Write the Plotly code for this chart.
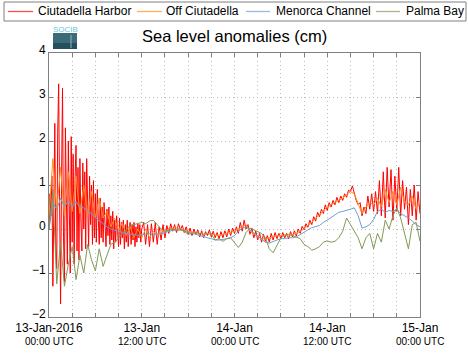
import numpy as np
import pandas as pd
import plotly.graph_objects as go

# ---------------- data (hours since 13-Jan-2016 00:00 UTC) ----------------
# Ciutadella Harbor: first 12 h sampled every 0.125 h, then every 0.25 h
harbor_early = [
    0.0, 0.8, 0.3, 1.2, -1.3, 1.5, 2.4, -0.4,
    -0.9, 2.2, 3.3, 0.5, -1.7, 1.2, 3.2, -0.2,
    -1.2, 2.3, 0.4, -0.8, 2.0, 0.9, -1.0, 2.1,
    -0.3, 1.7, -0.8, 1.2, 1.9, -0.5, 1.4, -0.7,
    1.6, 0.2, -0.5, 1.5, 0.0, 1.3, -0.45, 1.6,
    0.3, -0.4, 1.2, 0.1, 1.0, -0.35, 1.1, -0.2,
    0.8, -0.3, 0.9, 0.1, -0.35, 0.7, -0.2, 0.5,
    -0.3, 0.6, 0.0, -0.4, 0.45, -0.15, 0.5, -0.35,
    0.3, -0.25, 0.4, -0.45, 0.2, -0.3, 0.3, -0.1,
    -0.4, 0.25, -0.35, 0.15, -0.2, 0.2, -0.45, 0.1,
    -0.3, 0.2, -0.4, 0.0, 0.15, -0.35, 0.1, -0.25,
    0.15, -0.4, 0.05, -0.3, 0.12, -0.2, 0.1, -0.3,
    0.0,
]
harbor_late = [
    0.15, -0.35, 0.1, -0.4, 0.12, -0.3, 0.15, -0.35,
    0.05, -0.25, 0.1, -0.2, 0.08, -0.1, 0.12, -0.05,
    0.1, -0.08, 0.12, -0.02, 0.08, -0.08, 0.05, -0.12,
    0.02, -0.15, 0.0, -0.12, -0.02, -0.18, -0.04, -0.2,
    -0.06, -0.15, -0.02, -0.18, -0.05, -0.2, -0.08, -0.22,
    -0.06, -0.2, -0.04, -0.18, 0.0, -0.15, 0.02, -0.1,
    0.05, -0.1, 0.15, -0.05, 0.2, 0.0, 0.1, -0.12,
    0.02, -0.2, -0.05, -0.25, -0.1, -0.3, -0.12, -0.28,
    -0.15, -0.3, -0.1, -0.25, -0.08, -0.22, -0.1, -0.22,
    -0.08, -0.2, -0.1, -0.22, -0.06, -0.18, -0.04, -0.16,
    0.0, -0.1, 0.06, -0.02, 0.12, 0.04, 0.2, 0.1,
    0.28, 0.18, 0.38, 0.28, 0.45, 0.35, 0.55, 0.42,
    0.6, 0.5, 0.65, 0.55, 0.72, 0.6, 0.75, 0.65,
    0.8, 0.72, 0.88, 0.85, 0.98, 0.8, 0.65, 0.55,
    0.6, 0.3, 0.5, 0.35, 0.75, 0.45, 0.8, 0.4,
    0.85, 0.35, 1.1, 0.3, 1.3, 0.25, 1.4, 0.5,
    1.35, 0.2, 1.2, 0.4, 1.4, 0.3, 1.1, 0.45,
    0.95, 0.1, 0.9, 0.3, 1.0, 0.2, 0.85, 0.35,
]

# Other stations: every 0.5 h
off_ciutadella = [
    0.3, 1.6, 0.4, 1.4, 0.3, 1.3, 0.4, 1.2, 0.35, 1.0, 0.3, 0.85, 0.25,
    0.7, 0.25, 0.4, 0.05, 0.25, -0.05, 0.15, -0.15, 0.05, -0.2, 0.0, -0.2,
    0.0, -0.2, -0.05, -0.15, 0.0, -0.1, 0.02, 0.0, 0.03, 0.0, -0.02, -0.05,
    -0.08, -0.08, -0.1, -0.12, -0.1, -0.12, -0.14, -0.15, -0.12, -0.1, -0.08, -0.05,
    0.0, 0.05, 0.1, -0.05, -0.12, -0.18, -0.22, -0.22, -0.2, -0.18, -0.15, -0.15,
    -0.14, -0.15, -0.12, -0.1, -0.05, 0.0, 0.08, 0.15, 0.25, 0.32, 0.42, 0.5,
    0.55, 0.6, 0.65, 0.7, 0.78, 0.85, 0.8, 0.55, 0.35, 0.5, 0.6, 0.55,
    0.7, 0.5, 0.9, 0.6, 0.85, 0.55, 0.95, 0.6, 0.55, 0.75, 0.45, 0.6,
]

menorca_channel = [
    0.0, 0.6, 0.45, 0.7, 0.5, 0.65, 0.5, 0.62, 0.5, 0.48, 0.4, 0.35, 0.26,
    0.2, 0.12, 0.05, 0.0, -0.03, -0.05, -0.08, -0.1, -0.12, -0.12, -0.15, -0.12,
    -0.12, -0.1, -0.15, -0.1, -0.12, -0.08, -0.05, -0.03, -0.02, -0.02, -0.05, -0.08,
    -0.1, -0.12, -0.15, -0.18, -0.2, -0.22, -0.25, -0.25, -0.24, -0.22, -0.2, -0.15,
    -0.05, 0.02, 0.05, -0.02, -0.1, -0.18, -0.25, -0.3, -0.32, -0.28, -0.25, -0.22,
    -0.22, -0.2, -0.2, -0.18, -0.12, -0.08, -0.02, 0.03, 0.05, 0.08, 0.15, 0.2,
    0.26, 0.32, 0.38, 0.4, 0.42, 0.45, 0.48, 0.3, 0.02, 0.05, 0.1, 0.22,
    0.4, 0.45, 0.38, 0.42, 0.4, 0.45, 0.35, 0.3, 0.25, 0.18, 0.1, 0.05,
]

palma_bay = [
    0.0, 0.9, -1.25, -0.3, -1.3, -0.8, -0.4, -1.15, -0.6, -1.0, -0.35, -0.7, -0.95,
    -0.45, -0.85, -0.6, -0.35, -0.3, -0.2, -0.1, 0.0, 0.08, 0.1, 0.12, 0.15,
    0.12, 0.18, 0.2, 0.1, 0.0, -0.05, -0.02, 0.0, -0.03, -0.02, -0.05, -0.12,
    -0.1, -0.08, -0.1, -0.12, -0.1, -0.12, -0.25, -0.22, -0.28, -0.22, -0.2, -0.32,
    -0.42, -0.3, -0.08, 0.02, -0.02, -0.05, -0.1, -0.2, -0.45, -0.54, -0.35, -0.2,
    -0.14, -0.12, -0.15, -0.18, -0.22, -0.35, -0.4, -0.48, -0.45, -0.4, -0.3, -0.27,
    -0.3, -0.28, -0.2, -0.05, 0.25, 0.1, -0.05, -0.2, -0.45, -0.2, -0.1, -0.45,
    -0.1, -0.3, 0.2, 0.0, 0.3, 0.48, 0.25, -0.1, -0.45, 0.1, 0.15, -0.28,
]

series_names = ["Ciutadella Harbor", "Off Ciutadella", "Menorca Channel", "Palma Bay"]
series_colors = ["#ff0000", "#ff8c1a", "#6f9fd0", "#7f9a55"]

tick_hours = [0, 3, 6, 9, 12, 15, 18, 21, 24, 27, 30, 33, 36, 39, 42, 45, 48]
tick_main = {0: "13-Jan-2016", 12: "13-Jan", 24: "14-Jan", 36: "14-Jan", 48: "15-Jan"}
tick_sub = {0: "00:00 UTC", 12: "12:00 UTC", 24: "00:00 UTC", 36: "12:00 UTC", 48: "00:00 UTC"}

# ---------------- build ----------------
W, H = 468, 353
ML, MR, MT, MB = 49, 48, 53, 36
PW, PH = W - ML - MR, H - MT - MB


def px2x(px):
    return (px - ML) / PW


def px2y(py):
    return (H - MB - py) / PH


base = pd.Timestamp("2016-01-13 00:00:00")
assert len(harbor_early) == 97 and len(harbor_late) == 144
assert len(off_ciutadella) == len(menorca_channel) == len(palma_bay) == 97

red_hours = np.concatenate([np.arange(len(harbor_early)) * 0.125,
                            12.25 + np.arange(len(harbor_late)) * 0.25])
harbor = harbor_early + harbor_late
t_red = base + pd.to_timedelta(red_hours, unit="h")
t_oth = base + pd.to_timedelta(np.arange(len(off_ciutadella)) * 0.5, unit="h")

FONT = "Liberation Sans, Arial, Helvetica, sans-serif"

fig = go.Figure()
for name, col, xs, ys in zip(series_names, series_colors,
                             [t_red, t_oth, t_oth, t_oth],
                             [harbor, off_ciutadella, menorca_channel, palma_bay]):
    fig.add_trace(go.Scatter(x=xs, y=ys, mode="lines", name=name,
                             line=dict(color=col, width=1), showlegend=False))

tickvals = [base + pd.Timedelta(hours=h) for h in tick_hours]
ticktext = [tick_main.get(h, "") for h in tick_hours]

axis_common = dict(showline=True, linecolor="#808080", linewidth=1, mirror="ticks",
                   ticks="inside", ticklen=4, tickcolor="#808080", automargin=False,
                   showgrid=True, gridcolor="#bdbdbd", griddash="1px,3px", gridwidth=1,
                   zeroline=False, tickfont=dict(family=FONT, size=12, color="black"))

annotations = [
    dict(text="Sea level anomalies (cm)", xref="paper", yref="paper",
         x=0.5, y=px2y(36), xanchor="center", yanchor="middle", showarrow=False,
         font=dict(family=FONT, size=16.5, color="black")),
    dict(text="SOCIB", xref="paper", yref="paper", x=px2x(65), y=px2y(29),
         xanchor="center", yanchor="middle", showarrow=False,
         font=dict(family=FONT, size=8, color="#6cc3d6")),
]
for h, sub in tick_sub.items():
    annotations.append(dict(text=sub, xref="x", yref="paper",
                            x=base + pd.Timedelta(hours=h), y=px2y(341),
                            xanchor="center", yanchor="middle", showarrow=False,
                            font=dict(family=FONT, size=10, color="black")))

# manual legend (one row, boxed)
leg_line_px = [(8, 33), (137, 162), (246, 270), (376, 400)]
leg_text_px = [36, 164, 274, 404]
leg_y = 11.5
shapes = [
    dict(type="rect", xref="paper", yref="paper", x0=px2x(4), x1=px2x(466),
         y0=px2y(21), y1=px2y(2), fillcolor="white",
         line=dict(color="#808080", width=1), layer="above"),
]
for (a, b), tx, name, col in zip(leg_line_px, leg_text_px, series_names, series_colors):
    shapes.append(dict(type="line", xref="paper", yref="paper", x0=px2x(a), x1=px2x(b),
                       y0=px2y(leg_y), y1=px2y(leg_y), line=dict(color=col, width=1.3),
                       layer="above", opacity=0.7))
    annotations.append(dict(text=name, xref="paper", yref="paper", x=px2x(tx), y=px2y(leg_y),
                            xanchor="left", yanchor="middle", showarrow=False,
                            font=dict(family=FONT, size=12, color="black")))

# SOCIB logo block
shapes += [
    dict(type="rect", xref="paper", yref="paper", x0=px2x(53), x1=px2x(77),
         y0=px2y(49), y1=px2y(33), fillcolor="#3b6a78", line=dict(width=0), layer="above"),
    dict(type="rect", xref="paper", yref="paper", x0=px2x(53), x1=px2x(77),
         y0=px2y(49), y1=px2y(43), fillcolor="#24505d", line=dict(width=0), layer="above"),
    dict(type="line", xref="paper", yref="paper", x0=px2x(71), x1=px2x(71),
         y0=px2y(48), y1=px2y(35), line=dict(color="#8fb6c2", width=1), layer="above"),
]

fig.update_layout(
    width=W, height=H,
    margin=dict(l=ML, r=MR, t=MT, b=MB),
    paper_bgcolor="white", plot_bgcolor="white",
    font=dict(family=FONT, size=12, color="black"),
    showlegend=False,
    xaxis=dict(type="date", range=[base, base + pd.Timedelta(hours=48)],
               tickmode="array", tickvals=tickvals, ticktext=ticktext, **axis_common),
    yaxis=dict(range=[-2, 4], tickmode="linear", tick0=0, dtick=1,
               ticklabelshift=-3, **axis_common),
    annotations=annotations,
    shapes=shapes,
)

fig.write_html("out.html", config={"displayModeBar": False})
